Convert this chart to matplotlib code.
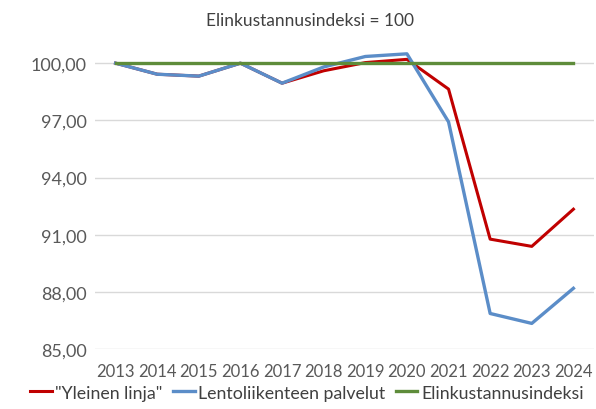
import matplotlib
matplotlib.use("Agg")
import matplotlib.pyplot as plt

# data
years = ["2013", "2014", "2015", "2016", "2017", "2018", "2019", "2020",
         "2021", "2022", "2023", "2024"]
yleinen = [100.0, 99.42, 99.32, 100.0, 98.95, 99.6, 100.03, 100.2,
           98.64, 90.77, 90.39, 92.34]
lento = [100.0, 99.42, 99.32, 100.0, 98.95, 99.8, 100.35, 100.49,
         96.92, 86.87, 86.35, 88.19]
elinkust = [100.0] * 12
yticks = [85, 88, 91, 94, 97, 100]

plt.rcParams['font.family'] = ['Lato', 'DejaVu Sans']

fig = plt.figure(figsize=(5.96, 4.10), dpi=100)
ax = fig.add_axes([0.159, 0.146, 0.838, 0.744])

x = list(range(len(years)))
ax.plot(x, yleinen, color='#C00000', lw=2.2, label='"Yleinen linja"', zorder=3)
ax.plot(x, lento, color='#5B8DC8', lw=2.4, label='Lentoliikenteen palvelut', zorder=4)
ax.plot(x, elinkust, color='#5E8C3A', lw=2.4, label='Elinkustannusindeksi', zorder=5)

ax.set_xlim(-0.5, len(years) - 0.5)
ax.set_ylim(85, 101)
ax.set_xticks(x)
ax.set_xticklabels(years)
ax.set_yticks(yticks)
ax.set_yticklabels([f"{v:.2f}".replace('.', ',') for v in yticks])
ax.tick_params(axis='both', length=0, colors='#595959', labelsize=12)
ax.tick_params(axis='x', pad=10)
ax.tick_params(axis='y', pad=6)
ax.tick_params(axis='y', labelsize=13)

ax.grid(axis='y', color='#D9D9D9', lw=1)
ax.set_axisbelow(True)
for s in ax.spines.values():
    s.set_visible(False)

fig.text(0.52, 0.95, 'Elinkustannusindeksi = 100', ha='center', va='center',
         fontsize=12.5, color='#404040')

fig.legend(loc='center', bbox_to_anchor=(0.515, 0.04), ncol=3, frameon=False,
           fontsize=12.8, handlelength=1.2, handletextpad=0.2, columnspacing=0.6,
           labelcolor='#404040')

fig.savefig('out.png', dpi=100)
